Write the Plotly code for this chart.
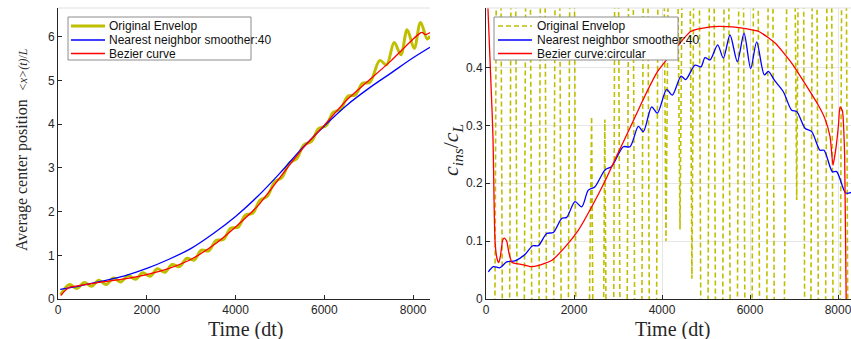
import plotly.graph_objects as go

W, H = 851, 339

# ---------------- left panel: average centre position ----------------
env_t = [60, 260, 425, 590, 755, 920, 1085, 1250, 1415, 1580, 1745, 1910, 2075, 2240,
         2405, 2570, 2735, 2900, 3065, 3230, 3395, 3560, 3725, 3890, 4055, 4220, 4385,
         4550, 4715, 4880, 5045, 5210, 5375, 5540, 5705, 5870, 6035, 6200, 6365, 6530,
         6695, 6860, 7025, 7250, 7400, 7573, 7723, 7866, 8024, 8167, 8317, 8380]
env_v = [0.10, 0.33, 0.24, 0.38, 0.29, 0.43, 0.33, 0.48, 0.39, 0.54, 0.45, 0.60, 0.52, 0.69,
         0.61, 0.79, 0.74, 0.93, 0.89, 1.12, 1.10, 1.34, 1.36, 1.62, 1.64, 1.92, 1.96,
         2.26, 2.35, 2.68, 2.78, 3.11, 3.21, 3.53, 3.60, 3.90, 3.96, 4.27, 4.34, 4.64,
         4.67, 4.94, 4.96, 5.46, 5.36, 5.87, 5.59, 6.16, 5.74, 6.33, 5.95, 6.02]

nn_t = [50, 500, 1000, 1500, 2000, 2500, 3000, 3500, 4000, 4500, 5000, 5500, 6000,
        6500, 7000, 7500, 8000, 8380]
nn_v = [0.22, 0.30, 0.41, 0.53, 0.70, 0.91, 1.16, 1.50, 1.89, 2.35, 2.88, 3.45, 3.96,
        4.43, 4.82, 5.17, 5.52, 5.76]

bz_t = [60, 150, 260, 500, 1000, 1500, 2000, 2500, 3000, 3500, 4000, 4500, 5000, 5500,
        6000, 6500, 7000, 7500, 8000, 8150, 8200, 8280, 8380]
bz_v = [0.08, 0.18, 0.27, 0.31, 0.39, 0.46, 0.56, 0.70, 0.91, 1.23, 1.65, 2.13, 2.78,
        3.43, 3.98, 4.55, 5.00, 5.45, 5.95, 6.08, 6.10, 6.05, 6.10]

# ---------------- right panel: c_ins / c_L ----------------
ins_t = [120, 287, 454, 621, 788, 955, 1122, 1289, 1456, 1623, 1790, 1957, 2124, 2400,
         2550, 2700, 2850, 2959, 3126, 3293, 3460, 3627, 3794, 3961, 4090, 4250, 4409,
         4560, 4680, 4796, 4963, 5130, 5297, 5464, 5631, 5798, 5965, 6132, 6299, 6466,
         6633, 6795, 6930, 7061, 7180, 7300, 7468, 7635, 7802, 7969, 8136, 8303]
ins_v = [-1.5, 1.5, -1.5, 1.5, -1.5, 1.5, -1.5, 1.5, -1.5, 1.5, -1.5, 1.5, -1.5, 0.315,
         -1.5, 0.31, -1.5, 1.5, -1.5, 1.5, -1.5, 1.5, -1.5, 1.5, 0.10, 1.5, 0.12,
         1.5, 0.035, 1.5, -1.5, 1.5, -1.5, 1.5, -1.5, 1.5, -1.5, 1.5, -1.5, 1.5,
         -1.5, 0.134, 1.5, 0.171, 1.5, -1.5, 1.5, -1.5, 1.5, -1.5, 1.5, -1.5]

nn2_t = [53, 167, 318, 470, 659, 886, 1061, 1189, 1379, 1530, 1720, 1833, 2023, 2174,
         2326, 2477, 2705, 2856, 3121, 3273, 3462, 3576, 3765, 3894, 4106, 4235, 4432,
         4538, 4750, 4886, 4977, 5091, 5265, 5394, 5545, 5712, 5864, 6015, 6152, 6326,
         6417, 6553, 6758, 6947, 7061, 7250, 7402, 7591, 7682, 7871, 7970, 8174, 8295]
nn2_v = [0.047, 0.056, 0.054, 0.064, 0.066, 0.077, 0.092, 0.092, 0.113, 0.115, 0.139,
         0.141, 0.168, 0.159, 0.188, 0.194, 0.223, 0.229, 0.263, 0.263, 0.298, 0.289,
         0.332, 0.321, 0.362, 0.352, 0.385, 0.379, 0.404, 0.401, 0.417, 0.413, 0.439,
         0.416, 0.456, 0.410, 0.459, 0.398, 0.444, 0.387, 0.393, 0.378, 0.358, 0.326,
         0.324, 0.295, 0.289, 0.257, 0.257, 0.220, 0.220, 0.183, 0.184]

circ_t = [40, 135, 160, 205, 250, 290, 330, 380, 420, 470, 520, 590, 700, 850, 1000,
          1200, 1500, 1800, 2100, 2400, 2700, 3000, 3300, 3600, 3900, 4200, 4650, 5100,
          5300, 5600, 5900, 6200, 6570, 6950, 7250, 7550, 7700, 7820, 7886, 7955, 8010,
          8045, 8100, 8150, 8185, 8210]
circ_v = [0.51, 0.33, 0.275, 0.10, 0.07, 0.063, 0.075, 0.102, 0.105, 0.10, 0.08, 0.063,
          0.061, 0.059, 0.056, 0.058, 0.067, 0.090, 0.119, 0.159, 0.203, 0.252, 0.300,
          0.349, 0.393, 0.422, 0.462, 0.470, 0.471, 0.470, 0.467, 0.462, 0.442, 0.407,
          0.372, 0.335, 0.312, 0.280, 0.231, 0.262, 0.300, 0.332, 0.325, 0.250, 0.0,
          -0.05]

names_left = ["Original Envelop", "Nearest neighbor smoother:40", "Bezier curve"]
names_right = ["Original Envelop", "Nearest neighbor smoother:40", "Bezier curve:circular"]

OLIVE = "#BFBF00"
BLUE = "#0000FF"
RED = "#FF0000"
AXC = "#262626"


def px(x):
    return x / W


def py(y):
    return 1 - y / H


fig = go.Figure()

fig.add_trace(go.Scatter(x=env_t, y=env_v, mode="lines", name=names_left[0],
                         line=dict(color=OLIVE, width=3, shape="spline", smoothing=1.0),
                         xaxis="x", yaxis="y", showlegend=False))
fig.add_trace(go.Scatter(x=nn_t, y=nn_v, mode="lines", name=names_left[1],
                         line=dict(color=BLUE, width=1.3, shape="spline"),
                         xaxis="x", yaxis="y", showlegend=False))
fig.add_trace(go.Scatter(x=bz_t, y=bz_v, mode="lines", name=names_left[2],
                         line=dict(color=RED, width=1.3, shape="spline", smoothing=0.6),
                         xaxis="x", yaxis="y", showlegend=False))

fig.add_trace(go.Scatter(x=ins_t, y=ins_v, mode="lines", name=names_right[0],
                         line=dict(color=OLIVE, width=1.6, dash="5px,3px"),
                         xaxis="x2", yaxis="y2", showlegend=False))
fig.add_trace(go.Scatter(x=nn2_t, y=nn2_v, mode="lines", name=names_right[1],
                         line=dict(color=BLUE, width=1.3, shape="spline", smoothing=0.8),
                         xaxis="x2", yaxis="y2", showlegend=False))
fig.add_trace(go.Scatter(x=circ_t, y=circ_v, mode="lines", name=names_right[2],
                         line=dict(color=RED, width=1.3, shape="spline", smoothing=0.5),
                         xaxis="x2", yaxis="y2", showlegend=False))

tickfont = dict(family="Liberation Sans, Arial", size=12, color=AXC)
common_x = dict(tickmode="array", tickvals=[0, 2000, 4000, 6000, 8000], ticks="inside",
                ticklen=4, tickcolor=AXC, showline=True, linecolor=AXC, linewidth=1,
                tickfont=tickfont, zeroline=False, automargin=False,
                ticklabeloverflow="allow")
common_y = dict(ticks="inside", ticklen=4, tickcolor=AXC, showline=True, linecolor=AXC,
                linewidth=1, tickfont=tickfont, zeroline=False, automargin=False)

fig.update_layout(
    template="none",
    width=W, height=H, margin=dict(l=0, r=0, t=0, b=0, pad=0), autosize=False,
    paper_bgcolor="white", plot_bgcolor="white", showlegend=False,
    xaxis=dict(domain=[px(58), px(430)], range=[0, 8380], showgrid=False,
               anchor="y", **common_x),
    yaxis=dict(domain=[py(299), py(8)], range=[0, 6.66], showgrid=False,
               tickvals=[0, 1, 2, 3, 4, 5, 6], anchor="x", **common_y),
    xaxis2=dict(domain=[px(486), 1.0], range=[0, 8295], showgrid=True, gridcolor="#E6E6E6",
                gridwidth=1, anchor="y2", **common_x),
    yaxis2=dict(domain=[py(299), py(8)], range=[0, 0.5026], showgrid=True,
                gridcolor="#E6E6E6", gridwidth=1, tickvals=[0, 0.1, 0.2, 0.3, 0.4],
                ticktext=["0", "0.1", "0.2", "0.3", "0.4"], anchor="x2", **common_y),
)

shapes = []
# light top frame lines
for xa, ya in (("x", "y"), ("x2", "y2")):
    shapes.append(dict(type="line", xref=xa + " domain", yref=ya + " domain",
                       x0=0, x1=1, y0=1, y1=1, line=dict(color="#E0E0E0", width=1)))

annotations = []
serif = "Liberation Serif, Times New Roman, serif"


def label(text, x, y, size, angle=0):
    annotations.append(dict(text=text, x=px(x), y=py(y), xref="paper", yref="paper",
                            xanchor="center", yanchor="middle", textangle=angle,
                            showarrow=False, font=dict(family=serif, size=size, color=AXC)))


label("Time (dt)", 245, 329, 20)
label("Time (dt)", 672, 329, 20)
label("Average center position  <span style='font-size:12px'><i>&lt;x&gt;(t)</i>/<i>L</i></span>",
      22, 150, 16, -90)
label("<i>c<sub>ins</sub></i>/<i>c<sub>L</sub></i>", 452, 150, 22, -90)


def legend_box(x0, x1, y0, y1, names, styles, sx0, sx1, tx, rows):
    shapes.append(dict(type="rect", xref="paper", yref="paper", x0=px(x0), x1=px(x1),
                       y0=py(y1), y1=py(y0), fillcolor="white",
                       line=dict(color="#8C8C8C", width=1), layer="above"))
    for nm, st, ry in zip(names, styles, rows):
        shapes.append(dict(type="line", xref="paper", yref="paper", x0=px(sx0), x1=px(sx1),
                           y0=py(ry), y1=py(ry), line=st, layer="above"))
        annotations.append(dict(text=nm, x=px(tx), y=py(ry), xref="paper", yref="paper",
                                xanchor="left", yanchor="middle", showarrow=False,
                                font=dict(family="Liberation Sans, Arial", size=12,
                                          color="#111111")))


legend_box(68, 251, 17, 60, names_left,
           [dict(color=OLIVE, width=3), dict(color=BLUE, width=1.3), dict(color=RED, width=1.3)],
           71, 105, 106.5, [26, 40, 53.5])
legend_box(494, 678, 17, 60, names_right,
           [dict(color=OLIVE, width=1.6, dash="5px,3px"), dict(color=BLUE, width=1.3),
            dict(color=RED, width=1.3)],
           498, 532, 534.5, [26, 40, 53.5])

fig.update_layout(shapes=shapes, annotations=annotations)
fig.write_html("out.html")
